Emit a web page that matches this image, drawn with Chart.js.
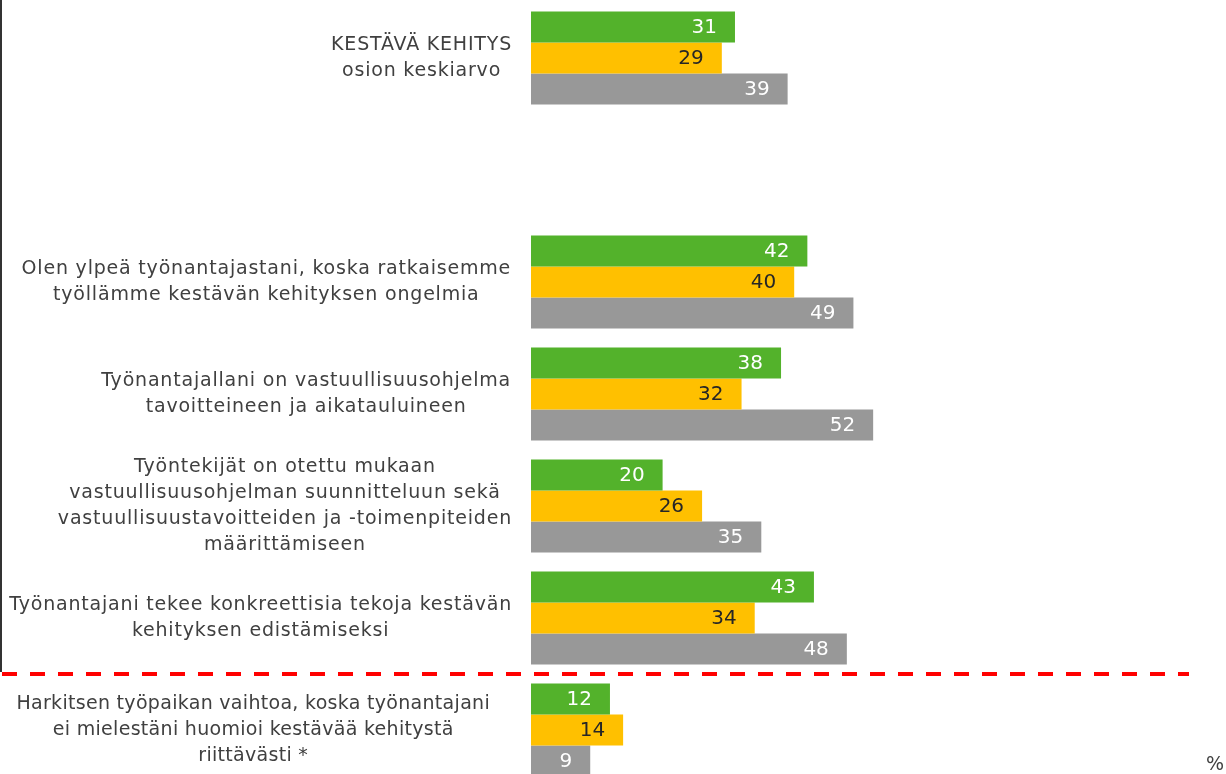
<!DOCTYPE html>
<html>
<head>
<meta charset="utf-8">
<script src="https://cdn.jsdelivr.net/npm/chart.js@4"></script>
<style>
    html, body { margin: 0; padding: 0; background: #fff; overflow: hidden; }
    #wrap { position: relative; width: 1226px; height: 774px; overflow: hidden; }
    canvas { display: block; }
</style>
</head>
<body>
<div id="wrap"><canvas id="chart" width="1226" height="800"></canvas></div>
<script>
// categories (one empty slot between the average row and the statements)
const categories = [
    ['KESTÄVÄ KEHITYS', 'osion keskiarvo'],
    [],
    ['Olen ylpeä työnantajastani, koska ratkaisemme', 'työllämme kestävän kehityksen ongelmia'],
    ['Työnantajallani on vastuullisuusohjelma', 'tavoitteineen ja aikatauluineen'],
    ['Työntekijät on otettu mukaan', 'vastuullisuusohjelman suunnitteluun sekä', 'vastuullisuustavoitteiden ja -toimenpiteiden', 'määrittämiseen'],
    ['Työnantajani tekee konkreettisia tekoja kestävän', 'kehityksen edistämiseksi'],
    ['Harkitsen työpaikan vaihtoa, koska työnantajani', 'ei mielestäni huomioi kestävää kehitystä', 'riittävästi *']
];
const seriesGreen = [31, null, 42, 38, 20, 43, 12];
const seriesYellow = [29, null, 40, 32, 26, 34, 14];
const seriesGray = [39, null, 49, 52, 35, 48, 9];
const axisMin = 0;
const axisMax = 100;
const unitLabel = '%';

const COLORS = {
    green: '#53b22b',
    yellow: '#ffc000',
    gray: '#989898',
    text: '#404040',
    red: '#ff0000'
};
const LABEL_FONT = '19px "DejaVu Sans", sans-serif';
const VALUE_FONT = '20px "DejaVu Sans", sans-serif';
// right edge and letter spacing of each category's text block
const labelRight = [512, 512, 511, 511, 512, 512, 490];
const labelSpacing = [0.8, 0.8, 0.8, 0.8, 0.8, 0.8, 0.3];

const labelsPlugin = {
    id: 'sideLabels',
    afterDraw(chart) {
        const ctx = chart.ctx;
        const yScale = chart.scales.y;
        const area = chart.chartArea;
        ctx.save();

        // left frame line and dashed separator before the last row
        const sepY = (yScale.getPixelForValue(5) + yScale.getPixelForValue(6)) / 2;
        ctx.fillStyle = '#333';
        ctx.fillRect(0, 0, 2, sepY - 2);
        ctx.strokeStyle = COLORS.red;
        ctx.lineWidth = 4;
        ctx.setLineDash([15, 13]);
        ctx.beginPath();
        ctx.moveTo(2, sepY);
        ctx.lineTo(area.right, sepY);
        ctx.stroke();
        ctx.setLineDash([]);

        // category texts, centred lines inside a block
        ctx.font = LABEL_FONT;
        ctx.fillStyle = COLORS.text;
        ctx.textAlign = 'center';
        ctx.textBaseline = 'middle';
        const lineH = 26;
        categories.forEach((lines, i) => {
            if (!lines.length) return;
            ctx.letterSpacing = labelSpacing[i] + 'px';
            const maxW = Math.max(...lines.map(l => ctx.measureText(l).width));
            const cx = labelRight[i] - maxW / 2;
            const cy = yScale.getPixelForValue(i);
            const top = cy - (lines.length - 1) * lineH / 2;
            lines.forEach((l, k) => ctx.fillText(l, cx, top + k * lineH));
        });
        ctx.letterSpacing = '0px';

        // value labels inside bar ends
        ctx.font = VALUE_FONT;
        ctx.textAlign = 'right';
        chart.data.datasets.forEach((ds, di) => {
            const meta = chart.getDatasetMeta(di);
            meta.data.forEach((bar, i) => {
                const v = ds.data[i];
                if (v === null || v === undefined) return;
                ctx.fillStyle = di === 1 ? '#262626' : '#ffffff';
                ctx.fillText(String(v), bar.x - 18, bar.y + 1);
            });
        });

        ctx.font = LABEL_FONT;
        ctx.fillStyle = COLORS.text;
        ctx.textAlign = 'right';
        ctx.fillText(unitLabel, 1224, 765);
        ctx.restore();
    }
};

new Chart(document.getElementById('chart'), {
    type: 'bar',
    data: {
        labels: categories.map(c => c.join(' ')),
        datasets: [
            { label: 'Sarja 1', data: seriesGreen, backgroundColor: COLORS.green },
            { label: 'Sarja 2', data: seriesYellow, backgroundColor: COLORS.yellow },
            { label: 'Sarja 3', data: seriesGray, backgroundColor: COLORS.gray }
        ]
    },
    options: {
        indexAxis: 'y',
        responsive: false,
        animation: false,
        layout: { padding: { left: 531, right: 37, top: 2, bottom: 14 } },
        datasets: { bar: { barPercentage: 1, categoryPercentage: 0.83 } },
        scales: {
            x: { display: false, min: axisMin, max: axisMax },
            y: { display: false }
        },
        plugins: {
            legend: { display: false },
            tooltip: { enabled: false }
        }
    },
    plugins: [labelsPlugin]
});
</script>
</body>
</html>
